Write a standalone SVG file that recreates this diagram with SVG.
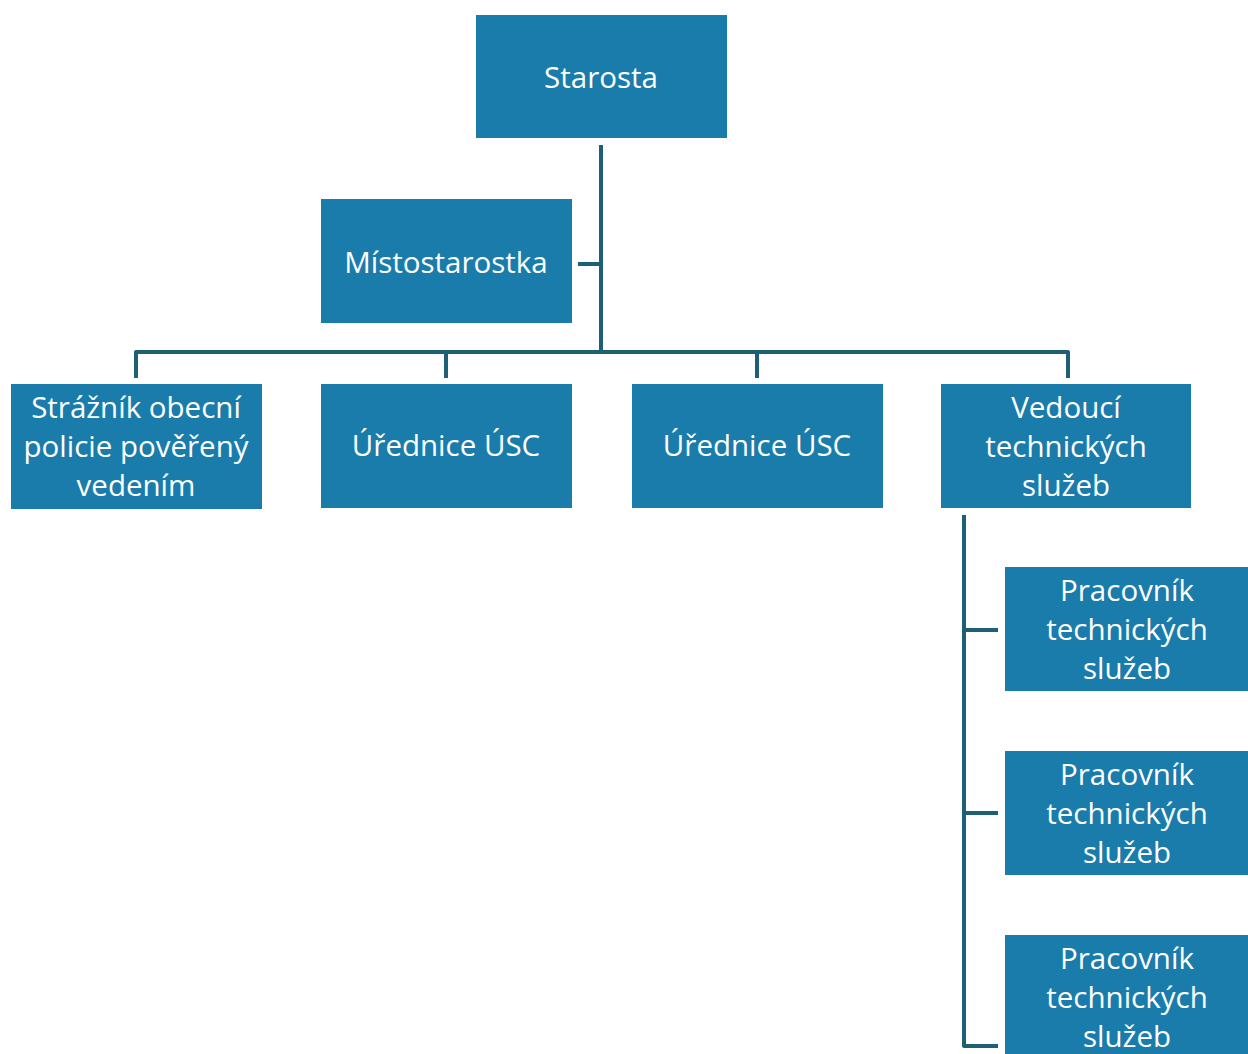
<svg xmlns="http://www.w3.org/2000/svg" width="1248" height="1054" viewBox="0 0 1248 1054">
<style>
.box{fill:#1a7cab;}
.t{font-family:"Open Sans","Noto Sans",sans-serif;font-size:29.5px;fill:#ffffff;text-anchor:middle;}
.c{fill:none;stroke:#1d5f75;stroke-width:4;stroke-linejoin:round;}
</style>
<rect width="1248" height="1054" fill="#ffffff"/>
<g id="connectors">
<path class="c" d="M601 145 V350"/>
<path class="c" d="M578 264 H601"/>
<path class="c" d="M136 378 V352 H1068 V378"/>
<path class="c" d="M446 352 V378"/>
<path class="c" d="M757 352 V378"/>
<path class="c" d="M964 515 V1046 H998"/>
<path class="c" d="M964 630 H998"/>
<path class="c" d="M964 813 H998"/>
</g>
<g id="starosta"><rect class="box" x="476" y="15" width="251" height="123"/><text class="t" x="601" y="88">Starosta</text></g>
<g id="mistostarostka"><rect class="box" x="321" y="199" width="251" height="124"/><text class="t" x="446" y="273">Místostarostka</text></g>
<g id="straznik"><rect class="box" x="11" y="384" width="251" height="125"/><text class="t" x="136" y="418">Strážník obecní</text><text class="t" x="136" y="457">policie pověřený</text><text class="t" x="136" y="496">vedením</text></g>
<g id="urednice1"><rect class="box" x="321" y="384" width="251" height="124"/><text class="t" x="446" y="456">Úřednice ÚSC</text></g>
<g id="urednice2"><rect class="box" x="632" y="384" width="251" height="124"/><text class="t" x="757" y="456">Úřednice ÚSC</text></g>
<g id="vedouci"><rect class="box" x="941" y="384" width="250" height="124"/><text class="t" x="1066" y="418">Vedoucí</text><text class="t" x="1066" y="457">technických</text><text class="t" x="1066" y="496">služeb</text></g>
<g id="pracovnik1"><rect class="box" x="1005" y="567" width="243" height="124"/><text class="t" x="1127" y="601">Pracovník</text><text class="t" x="1127" y="640">technických</text><text class="t" x="1127" y="679">služeb</text></g>
<g id="pracovnik2"><rect class="box" x="1005" y="751" width="243" height="124"/><text class="t" x="1127" y="785">Pracovník</text><text class="t" x="1127" y="824">technických</text><text class="t" x="1127" y="863">služeb</text></g>
<g id="pracovnik3"><rect class="box" x="1005" y="935" width="243" height="124"/><text class="t" x="1127" y="969">Pracovník</text><text class="t" x="1127" y="1008">technických</text><text class="t" x="1127" y="1047">služeb</text></g>
</svg>
